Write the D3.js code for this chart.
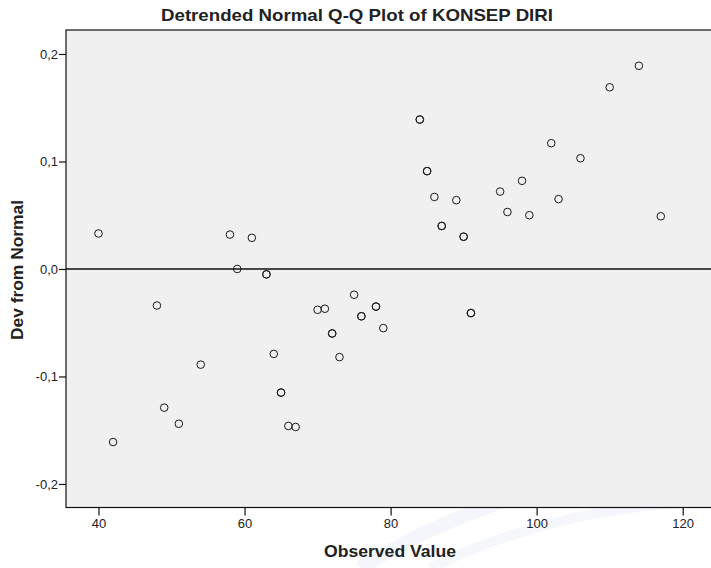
<!DOCTYPE html>
<html>
<head>
<meta charset="utf-8">
<script src="https://cdn.jsdelivr.net/npm/d3@7"></script>
<style>
  body { margin: 0; background: #ffffff; }
  svg { display: block; }
  text { font-family: "Liberation Sans", Arial, sans-serif; fill: #222; }
</style>
</head>
<body>
<div id="chart"></div>
<script>
// observed values (duplicates are drawn twice, as in the original)
var observed = [40, 42, 48, 49, 51, 54, 58, 59, 61, 63, 63, 64, 65, 65, 66, 67,
    70, 71, 72, 72, 73, 75, 76, 76, 78, 78, 79, 84, 84, 85, 85, 86, 87, 87,
    89, 90, 90, 91, 91, 95, 96, 98, 99, 102, 103, 106, 110, 114, 117];
var devFromNormal = [0.033, -0.161, -0.034, -0.129, -0.144, -0.089, 0.032, 0.000, 0.029, -0.005, -0.005, -0.079, -0.115, -0.115, -0.146, -0.147,
    -0.038, -0.037, -0.060, -0.060, -0.082, -0.024, -0.044, -0.044, -0.035, -0.035, -0.055, 0.139, 0.139, 0.091, 0.091, 0.067, 0.040, 0.040,
    0.064, 0.030, 0.030, -0.041, -0.041, 0.072, 0.053, 0.082, 0.050, 0.117, 0.065, 0.103, 0.169, 0.189, 0.049];
var xTicks = [40, 60, 80, 100, 120];
var yTicks = [-0.2, -0.1, 0.0, 0.1, 0.2];

var W = 711, H = 568;
var plot = {l: 66, r: 713, t: 30, b: 507.5};

var x = d3.scaleLinear()
    .domain([35.55, 124.15])
    .range([plot.l, plot.r]);

var y = d3.scaleLinear()
    .domain([-0.2219, 0.2223])
    .range([plot.b, plot.t]);

var svg = d3.select("#chart")
    .append("svg")
    .attr("width", W)
    .attr("height", H);

// faint watermark arcs in the lower right
svg.append("path")
    .attr("d", "M 360 568 Q 520 470 711 468")
    .attr("fill", "none")
    .attr("stroke", "#f4f6fb")
    .attr("stroke-width", 14);
svg.append("path")
    .attr("d", "M 430 568 Q 560 505 711 502")
    .attr("fill", "none")
    .attr("stroke", "#f5f7fb")
    .attr("stroke-width", 10);

// plot background + frame
svg.append("rect")
    .attr("x", plot.l)
    .attr("y", plot.t)
    .attr("width", plot.r - plot.l)
    .attr("height", plot.b - plot.t)
    .attr("fill", "#f0f0f0")
    .attr("stroke", "#111")
    .attr("stroke-width", 1.2);

// axes
var fmt = function(d) { return d3.format(".1f")(d).replace(".", ",").replace("−", "-"); };

var yAxis = svg.append("g")
    .attr("transform", "translate(" + plot.l + ",0)")
    .call(d3.axisLeft(y).tickValues(yTicks).tickSize(7).tickPadding(1).tickFormat(fmt));
yAxis.select(".domain").remove();
yAxis.selectAll(".tick line").attr("stroke", "#111").attr("stroke-width", 1.2);
yAxis.selectAll(".tick text")
    .attr("font-size", "13px")
    .attr("fill", "#222")
    .style("font-family", "Liberation Sans, Arial, sans-serif");

var xAxis = svg.append("g")
    .attr("transform", "translate(0," + plot.b + ")")
    .call(d3.axisBottom(x).tickValues(xTicks).tickSize(8).tickPadding(3).tickFormat(d => d));
xAxis.select(".domain").remove();
xAxis.selectAll(".tick line").attr("stroke", "#111").attr("stroke-width", 1.2);
xAxis.selectAll(".tick text")
    .attr("font-size", "13px")
    .attr("fill", "#222")
    .style("font-family", "Liberation Sans, Arial, sans-serif");

// zero reference line
svg.append("line")
    .attr("x1", plot.l)
    .attr("x2", plot.r)
    .attr("y1", y(0))
    .attr("y2", y(0))
    .attr("stroke", "#111")
    .attr("stroke-width", 1.4);

// points
var pts = observed.map((v, i) => ({v: v, d: devFromNormal[i]}));
svg.append("g")
    .selectAll("circle")
    .data(pts)
    .enter()
    .append("circle")
    .attr("cx", d => x(d.v))
    .attr("cy", d => y(d.d))
    .attr("r", 3.8)
    .attr("fill", "none")
    .attr("stroke", "#1a1a1a")
    .attr("stroke-width", 1);

// titles
svg.append("text")
    .attr("x", 357)
    .attr("y", 21)
    .attr("text-anchor", "middle")
    .attr("font-size", "17px")
    .attr("font-weight", "bold")
    .attr("textLength", 392)
    .attr("lengthAdjust", "spacingAndGlyphs")
    .text("Detrended Normal Q-Q Plot of KONSEP DIRI");

svg.append("text")
    .attr("x", 390)
    .attr("y", 557)
    .attr("text-anchor", "middle")
    .attr("font-size", "17px")
    .attr("font-weight", "bold")
    .attr("textLength", 132)
    .attr("lengthAdjust", "spacingAndGlyphs")
    .text("Observed Value");

svg.append("text")
    .attr("transform", "translate(23, 270) rotate(-90)")
    .attr("text-anchor", "middle")
    .attr("font-size", "17px")
    .attr("font-weight", "bold")
    .attr("textLength", 140)
    .attr("lengthAdjust", "spacingAndGlyphs")
    .text("Dev from Normal");
</script>
</body>
</html>
